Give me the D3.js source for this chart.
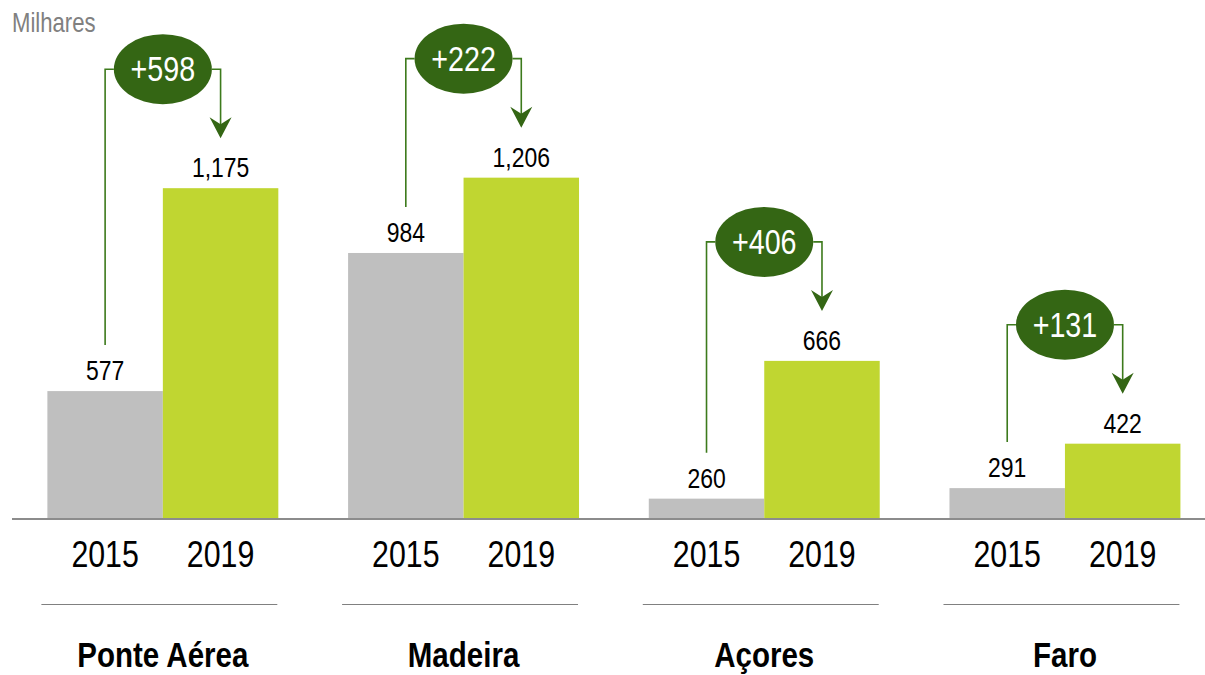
<!DOCTYPE html>
<html>
<head>
<meta charset="utf-8">
<script src="https://cdn.jsdelivr.net/npm/d3@7"></script>
<style>
  html, body { margin: 0; padding: 0; background: #fff; }
  svg { display: block; }
  text { font-family: "Liberation Sans Narrow", "Arial Narrow", "Liberation Sans", Arial, sans-serif; }
</style>
</head>
<body>
<svg id="chart" width="1205" height="675"></svg>
<script>
// ---- data ----
const categories = ["Ponte Aérea", "Madeira", "Açores", "Faro"];
const years = ["2015", "2019"];
const values2015 = [577, 984, 260, 291];
const values2019 = [1175, 1206, 666, 422];
const deltaLabels = ["+598", "+222", "+406", "+131"];
const unitLabel = "Milhares";

// ---- setup ----
const W = 1205, H = 675;
const svg = d3.select("#chart");
const baseY = 519;
const NARROW = 0.82; // horizontal compression to mimic a narrow typeface

const colGray = "#bfbfbf";
const colGreen = "#c0d631";
const colDark = "#346614";
const colLine = "#3d7a1c";

const x = d3.scaleBand().domain(categories).range([12.5, 1215.3])
  .paddingInner(0.232).paddingOuter(0.116);
const xi = d3.scaleBand().domain(years).range([0, x.bandwidth()]).padding(0);
const y = d3.scaleLinear().domain([200, 1400]).range([baseY, baseY - 1200 * 0.3393]);

const fmt = d3.format(",");

function narrowText(parent, tx, ty, str, size, opts = {}) {
  const g = parent.append("g").attr("transform", `translate(${tx},${ty}) scale(${NARROW},1)`);
  const t = g.append("text").attr("x", 0).attr("y", 0)
    .attr("font-size", size)
    .attr("text-anchor", opts.anchor || "middle")
    .attr("fill", opts.fill || "#000")
    .text(str);
  if (opts.bold) t.attr("font-weight", "bold");
  return g;
}

// unit label
narrowText(svg, 12, 32, unitLabel, 27, { anchor: "start", fill: "#808080" });

const groups = svg.selectAll("g.grp").data(categories.map((c, i) => ({
  c, i, v: [values2015[i], values2019[i]], d: deltaLabels[i]
}))).join("g").attr("class", "grp")
  .attr("transform", d => `translate(${x(d.c)},0)`);

// bars
groups.selectAll("rect").data(d => d.v.map((v, k) => ({ v, k })))
  .join("rect")
  .attr("x", d => xi(years[d.k]))
  .attr("width", xi.bandwidth())
  .attr("y", d => y(d.v))
  .attr("height", d => baseY - y(d.v))
  .attr("fill", d => d.k === 0 ? colGray : colGreen);

// value labels
groups.each(function(d) {
  const g = d3.select(this);
  d.v.forEach((v, k) => {
    narrowText(g, xi(years[k]) + xi.bandwidth() / 2, y(v) - 11, fmt(v), 28);
  });
});

// baseline
svg.append("line").attr("x1", 12).attr("x2", W).attr("y1", baseY).attr("y2", baseY)
  .attr("stroke", "#8c8c8c").attr("stroke-width", 2);

// year labels
groups.each(function() {
  const g = d3.select(this);
  years.forEach(yr => narrowText(g, xi(yr) + xi.bandwidth() / 2, 567, yr, 37));
});

// separators
groups.append("line")
  .attr("x1", -6).attr("x2", x.bandwidth() - 1)
  .attr("y1", 604.5).attr("y2", 604.5)
  .attr("stroke", "#808080").attr("stroke-width", 1.2);

// category labels
groups.each(function(d) {
  narrowText(d3.select(this), x.bandwidth() / 2, 667, d.c, 36, { bold: true });
});

// annotations
groups.each(function(d) {
  const g = d3.select(this);
  const cx = x.bandwidth() / 2;
  const lx = xi("2015") + xi.bandwidth() / 2;
  const rx = xi("2019") + xi.bandwidth() / 2;
  const ey = y(d.v[1]) - 119;
  const erx = 49, ery = 35;
  const leftEnd = y(d.v[0]) - 46;
  const tipY = y(d.v[1]) - 50;

  g.append("path")
    .attr("d", `M${cx - erx},${ey} H${lx} V${leftEnd}`)
    .attr("fill", "none").attr("stroke", colLine).attr("stroke-width", 1.6);
  g.append("path")
    .attr("d", `M${cx + erx},${ey} H${rx} V${tipY - 12}`)
    .attr("fill", "none").attr("stroke", colLine).attr("stroke-width", 1.6);
  g.append("path")
    .attr("d", `M${rx},${tipY} L${rx - 11},${tipY - 21} L${rx},${tipY - 14} L${rx + 11},${tipY - 21} Z`)
    .attr("fill", colDark);

  g.append("ellipse").attr("cx", cx).attr("cy", ey).attr("rx", erx).attr("ry", ery)
    .attr("fill", colDark);
  narrowText(g, cx, ey + 12, d.d, 35, { fill: "#fff" });
});
</script>
</body>
</html>
